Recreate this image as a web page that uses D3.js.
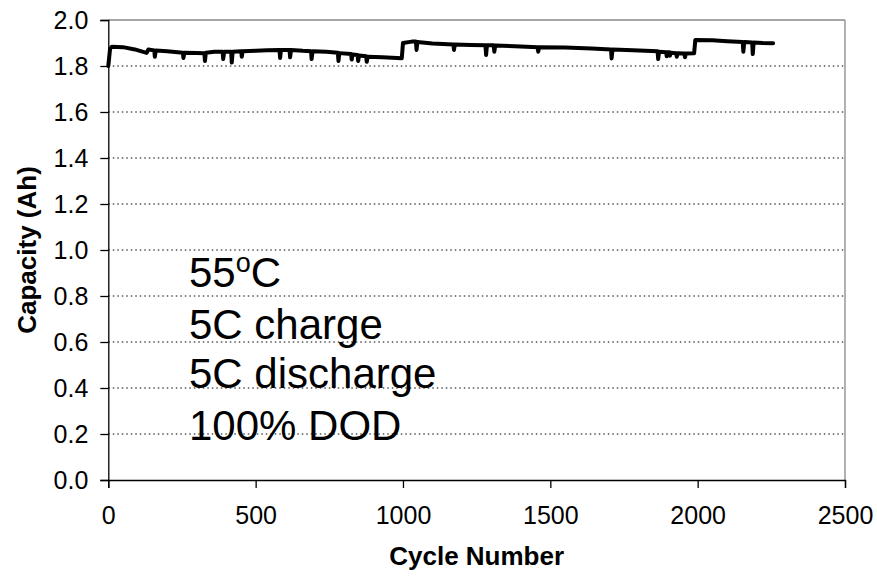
<!DOCTYPE html>
<html><head><meta charset="utf-8">
<script src="https://cdn.jsdelivr.net/npm/d3@7"></script>
<style>
body{margin:0;background:#fff;}
text{font-family:"Liberation Sans",Arial,sans-serif;fill:#000;}
</style></head>
<body><svg id="c" width="877" height="577"></svg>
<script>
const cycles = [0,6,12,50,90,130,136,156,158,161,200,253,255,258,300,326,328,331,360,388,390,393,417,419,422,451,453,456,500,540,581,583,586,615,617,620,660,688,690,693,740,779,781,784,824,826,829,846,848,851,875,877,880,930,996,1000,1030,1044,1046,1049,1100,1171,1173,1176,1230,1280,1282,1285,1308,1310,1313,1380,1457,1459,1462,1550,1640,1706,1708,1711,1780,1864,1866,1869,1893,1895,1898,1904,1906,1909,1927,1929,1932,1955,1957,1960,1988,1992,2050,2100,2153,2155,2158,2185,2187,2190,2220,2256];
const capacity = [1.80,1.875,1.884,1.882,1.872,1.857,1.872,1.868,1.840,1.867,1.864,1.858,1.835,1.858,1.856,1.855,1.822,1.858,1.862,1.862,1.830,1.862,1.862,1.815,1.862,1.864,1.840,1.864,1.866,1.868,1.870,1.835,1.870,1.870,1.838,1.870,1.866,1.864,1.830,1.864,1.862,1.858,1.822,1.856,1.852,1.828,1.850,1.848,1.822,1.846,1.842,1.818,1.840,1.838,1.834,1.900,1.906,1.906,1.870,1.904,1.898,1.893,1.870,1.893,1.891,1.890,1.848,1.890,1.890,1.862,1.889,1.886,1.882,1.862,1.882,1.880,1.876,1.872,1.833,1.872,1.868,1.864,1.830,1.862,1.860,1.842,1.860,1.860,1.845,1.858,1.856,1.840,1.855,1.854,1.838,1.854,1.855,1.913,1.912,1.908,1.904,1.862,1.904,1.902,1.852,1.902,1.900,1.899];
const xTicks = [0,500,1000,1500,2000,2500];
const yTicks = [0,0.2,0.4,0.6,0.8,1.0,1.2,1.4,1.6,1.8,2.0];
const xTitle = "Cycle Number";
const yTitle = "Capacity (Ah)";
const noteLines = ["55|o|C","5C charge","5C discharge","100% DOD"];

const svg = d3.select("#c");
const L=108.3, R=845, T=20, B=480;
const x = d3.scaleLinear().domain([0,2500]).range([L,R]);
const y = d3.scaleLinear().domain([0,2]).range([B,T]);

// grid
svg.append("g").selectAll("line").data(yTicks.filter(v=>v>0 && v<2)).join("line")
  .attr("x1",L).attr("x2",R).attr("y1",d=>y(d)).attr("y2",d=>y(d))
  .attr("stroke","#000").attr("stroke-width",1).attr("stroke-dasharray","1.5,3");
// border top/right
svg.append("line").attr("x1",L).attr("x2",R).attr("y1",y(2)).attr("y2",y(2)).attr("stroke","#888").attr("stroke-width",1.3);
svg.append("line").attr("x1",R).attr("x2",R).attr("y1",T).attr("y2",B).attr("stroke","#888").attr("stroke-width",1.3);

// axes
const fs = 25;
const yAxis = svg.append("g").attr("transform",`translate(${L},0)`)
  .call(d3.axisLeft(y).tickValues(yTicks).tickFormat(d3.format(".1f")).tickSize(8).tickPadding(12));
const xAxis = svg.append("g").attr("transform",`translate(0,${B})`)
  .call(d3.axisBottom(x).tickValues(xTicks).tickFormat(d3.format("d")).tickSize(8).tickPadding(18));
[yAxis,xAxis].forEach(g=>{
  g.select(".domain").attr("stroke","#000").attr("stroke-width",1.3);
  g.selectAll(".tick line").attr("stroke","#000").attr("stroke-width",1.3);
  g.selectAll("text").attr("font-family","Liberation Sans, Arial, sans-serif").attr("font-size",fs).attr("fill","#000");
});

// line
const data = cycles.map((c,i)=>[c,capacity[i]]);
svg.append("path").datum(data)
  .attr("d",d3.line().x(d=>x(d[0])).y(d=>y(d[1])))
  .attr("fill","none").attr("stroke","#000").attr("stroke-width",4)
  .attr("stroke-linejoin","round").attr("stroke-linecap","round");

// titles
svg.append("text").attr("x",(L+R)/2).attr("y",565).attr("text-anchor","middle")
  .attr("font-weight","bold").attr("font-size",26).text(xTitle);
svg.append("text").attr("transform",`translate(36,${(T+B)/2}) rotate(-90)`).attr("text-anchor","middle")
  .attr("font-weight","bold").attr("font-size",26).text(yTitle);

// annotation
const baseY = [287,339,388,440];
noteLines.forEach((s,i)=>{
  const t = svg.append("text").attr("x",189).attr("y",baseY[i]).attr("font-size",42);
  if(s.includes("|")){
    const p = s.split("|");
    t.append("tspan").text(p[0]);
    t.append("tspan").attr("font-size",27).attr("dy",-15).text(p[1]);
    t.append("tspan").attr("dy",15).text(p[2]);
  } else t.text(s);
});
</script></body></html>
